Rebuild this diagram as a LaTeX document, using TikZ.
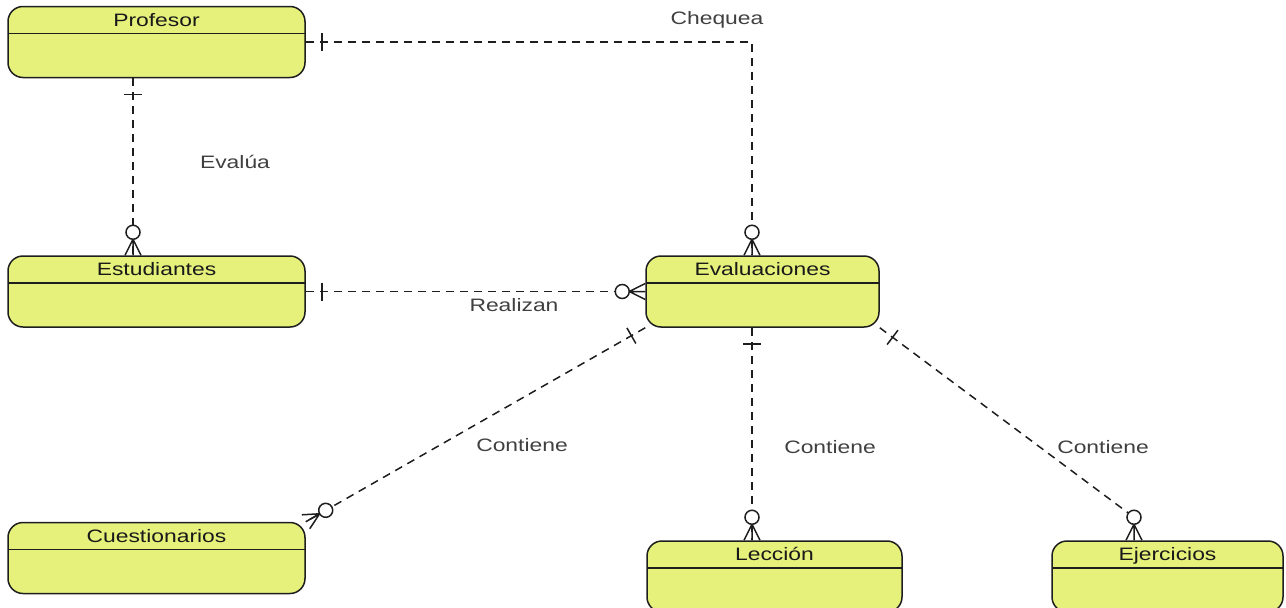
\documentclass[tikz,border=0pt]{standalone}
\usepackage{fontspec}
\setmainfont{Liberation Sans}[FakeStretch=1.27]
\usepackage{tikz}
\definecolor{entfill}{RGB}{229,241,122}
\definecolor{edge}{RGB}{30,30,30}

\begin{document}
\begin{tikzpicture}[x=1pt,y=-1pt,
  ent/.style={draw=edge,line width=1.5pt,fill=entfill,rounded corners=15pt,minimum height=71pt,inner sep=0pt,
    path picture={\draw[edge,line width=1.6pt] ([yshift=-27pt]path picture bounding box.north west) -- ([yshift=-27pt]path picture bounding box.north east);},
    label={[anchor=base,yshift=-20.5pt,text=black!90,font=\fontsize{18}{20}\selectfont]north:#1}},
  rlab/.style={text=black!75,font=\fontsize{18}{20}\selectfont},
  rel/.style={edge,line width=1.5pt,dash pattern=on 8pt off 6pt},
  one/.pic={\draw[edge,line width=1.5pt] (16,-9) -- (16,9);},
  many/.pic={\draw[edge,line width=1.5pt] (0,-8) -- (-16,0) -- (0,8) (-16,0) -- (0,0);
    \draw[edge,line width=1.5pt,fill=white] (-23,0) circle[radius=7];}]
  \clip (0,0) rectangle (1286,608);
  \node[ent=Profesor,minimum width=297pt] (prof) at (156.5,42) {};
  \node[ent=Estudiantes,minimum width=297pt] (estu) at (156.5,291.5) {};
  \node[ent=Cuestionarios,minimum width=297pt] (cuest) at (156.5,558) {};
  \node[ent=Evaluaciones,minimum width=233pt] (eval) at (762.5,291.5) {};
  \node[ent=Lección,minimum width=255pt] (lecc) at (774.5,576.5) {};
  \node[ent=Ejercicios,minimum width=231pt] (ejer) at (1167.5,576.5) {};
  \coordinate (chq) at ([xshift=-10.5pt]eval.north);
  \coordinate (evs) at ([xshift=-23.5pt]prof.south);
  \coordinate (evt) at ([xshift=-23.5pt]estu.north);
  \coordinate (lcs) at ([xshift=-10.5pt]eval.south);
  \coordinate (lct) at ([xshift=-22.5pt]lecc.north);
  \coordinate (ejt) at ([xshift=-33.5pt]ejer.north);
  \coordinate (ejc) at ([yshift=23pt]ejt);
  \draw[rel] (prof.east) -| (chq);
  \draw[rel] (evs) -- (evt);
  \draw[rel] (estu.east) -- (eval.west);
  \draw[rel] (eval.south west) -- (cuest.north east);
  \draw[rel] (lcs) -- (lct);
  \draw[rel] (eval.south east) -- (ejc);
  \pic at (prof.east) {one};
  \pic[rotate=-90] at (chq) {many};
  \pic[rotate=-90] at (evs) {one};
  \pic[rotate=-90] at (evt) {many};
  \pic at (estu.east) {one};
  \pic at (eval.west) {many};
  \pic[rotate=-150.2] at (eval.south west) {one};
  \pic[rotate=-150.2] at (cuest.north east) {many};
  \pic[rotate=-90] at (lcs) {one};
  \pic[rotate=-90] at (lct) {many};
  \pic[rotate=-37] at (eval.south east) {one};
  \pic[rotate=-90] at (ejt) {many};
  \node[rlab] (chequea) at (717,20) {Chequea};
  \node[rlab] (evalua) at (235,162) {Evalúa};
  \node[rlab] (realizan) at (514,305) {Realizan};
  \node[rlab] (cont1) at (522,445) {Contiene};
  \node[rlab] (cont2) at (830,447) {Contiene};
  \node[rlab] (cont3) at (1103,447) {Contiene};
\end{tikzpicture}
\end{document}
